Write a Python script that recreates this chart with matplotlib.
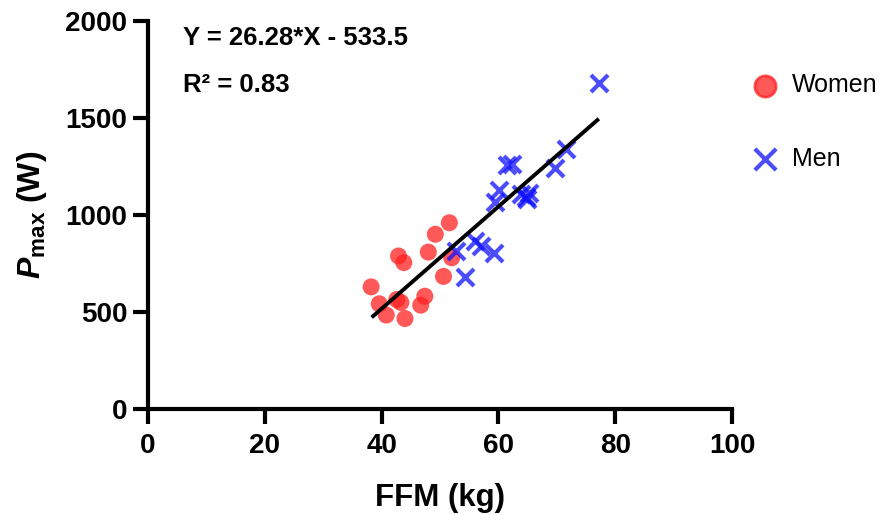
import matplotlib
matplotlib.use("Agg")
import matplotlib.pyplot as plt
import numpy as np

plt.rcParams['font.family'] = ['Liberation Sans', 'DejaVu Sans']
plt.rcParams['mathtext.fontset'] = 'custom'
plt.rcParams['mathtext.rm'] = 'Liberation Sans'
plt.rcParams['mathtext.bf'] = 'Liberation Sans:bold'
plt.rcParams['mathtext.it'] = 'Liberation Sans:italic'
plt.rcParams['mathtext.bfit'] = 'Liberation Sans:italic:bold'

women_ffm = [38.2, 39.6, 40.8, 42.6, 43.3, 42.9, 43.8, 44.0, 46.7, 47.4, 48.0, 49.2, 50.6, 51.6, 52.0]
women_pmax = [630, 543, 485, 565, 550, 789, 755, 467, 536, 582, 809, 901, 684, 960, 780]

men_ffm = [52.7, 54.2, 56.0, 57.0, 59.2, 59.5, 60.1, 61.4, 62.4, 63.9, 64.7, 65.2, 64.9, 69.7, 71.6, 77.2]
men_pmax = [815, 683, 866, 840, 803, 1068, 1129, 1258, 1262, 1110, 1095, 1115, 1084, 1240, 1338, 1681]

slope = 26.28
intercept = -533.5
fit_x = [38.3, 77.2]

xticks = [0, 20, 40, 60, 80, 100]
yticks = [0, 500, 1000, 1500, 2000]

fig = plt.figure(figsize=(8.8, 5.15), dpi=100)
ax = fig.add_axes([148/880, 1 - 409.3/515, 584/880, 388.6/515])

ax.scatter(women_ffm, women_pmax, s=150, color='#ff2020', alpha=0.75, edgecolors='none', zorder=3, label='Women')
ax.scatter(men_ffm, men_pmax, s=150, marker='x', color='#1010ff', alpha=0.75, linewidths=3, zorder=3, label='Men')

fx = np.array(fit_x)
ax.plot(fx, slope * fx + intercept, color='black', lw=2.8, zorder=4, solid_capstyle='butt')

ax.set_xlim(0, 100)
ax.set_ylim(0, 2000)
ax.set_xticks(xticks)
ax.set_yticks(yticks)
for s in ['top', 'right']:
    ax.spines[s].set_visible(False)
for s in ['left', 'bottom']:
    ax.spines[s].set_linewidth(3.0)
    ax.spines[s].set_capstyle('projecting')
ax.tick_params(axis='both', width=3.0, length=11, labelsize=20, pad=4)
ax.tick_params(axis='x', pad=6)
for lab in ax.get_xticklabels() + ax.get_yticklabels():
    lab.set_fontweight('bold')

ax.set_xlabel('FFM (kg)', fontsize=22.5, fontweight='bold', labelpad=17)
ax.set_ylabel(r'$\bfit{P}_{\mathbf{max}}$ $\mathbf{(W)}$', fontsize=23, labelpad=12)

ax.text(0.06, 0.955, 'Y = 26.28*X - 533.5', transform=ax.transAxes, fontsize=18.5,
        fontweight='bold', va='center', ha='left')
ax.text(0.06, 0.835, 'R\u00b2 = 0.83', transform=ax.transAxes, fontsize=18.5,
        fontweight='bold', va='center', ha='left')

leg = ax.legend(loc='upper left', bbox_to_anchor=(1.0, 0.91), frameon=False,
                fontsize=18, labelspacing=1.98, handletextpad=0.5, markerscale=1.25,
                borderaxespad=0.3, handlelength=1.2)
handles = leg.legend_handles
handles[0].set_edgecolor('#ff2020')
handles[0].set_linewidth(2.0)

fig.savefig('out.png', dpi=100)
